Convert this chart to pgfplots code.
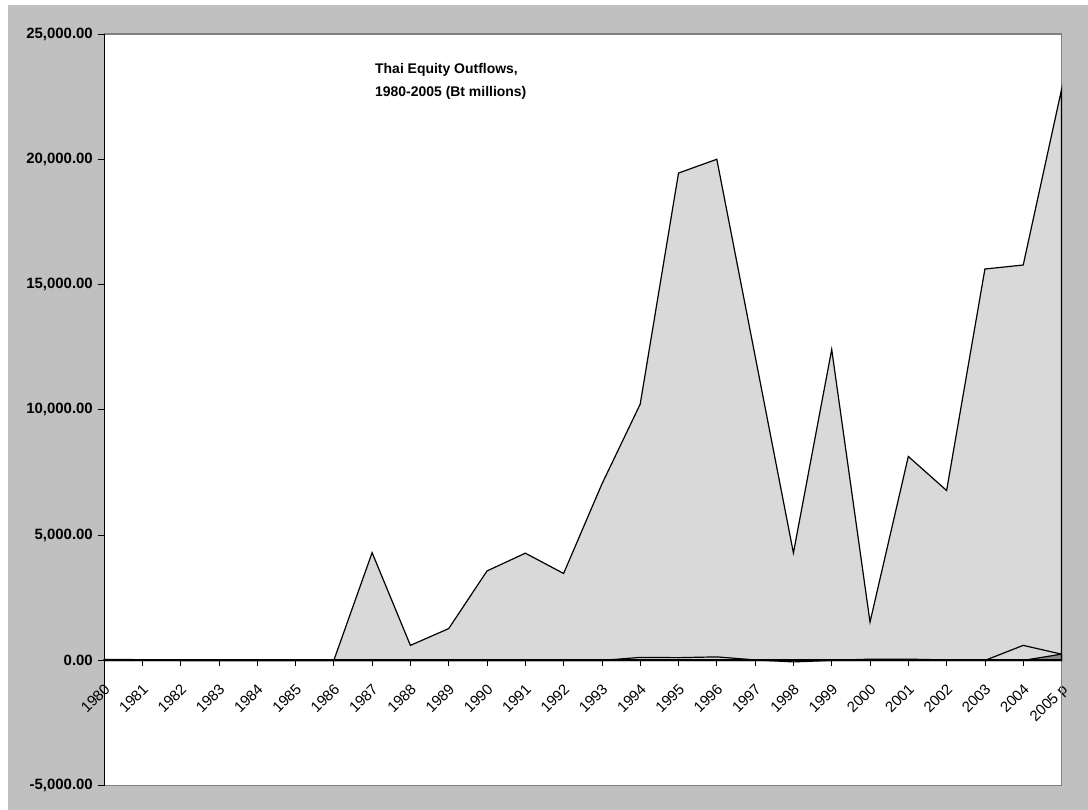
\documentclass[border=0pt]{standalone}
\usepackage{pgfplots}
\pgfplotsset{compat=1.18}
\usepackage{fontspec}
\setmainfont{Liberation Sans}
\definecolor{outergrey}{HTML}{C0C0C0}
\definecolor{areagrey}{HTML}{D9D9D9}
\definecolor{darkgrey}{HTML}{8C8C8C}
\definecolor{frameg}{HTML}{808080}
\newcommand\xl[1]{{\fontsize{15}{18}\selectfont #1}}
\begin{document}
\begin{tikzpicture}[x=1bp,y=1bp]
\path[use as bounding box] (0,0) rectangle (1088,810);
\fill[white] (0,0) rectangle (1088,810);
\fill[outergrey] (8,0) rectangle (1088,805);
\begin{axis}[
  at={(104bp,24.3bp)}, anchor=south west,
  scale only axis, width=957.5bp, height=751.7bp,
  xmin=0, xmax=25, ymin=-5000, ymax=25000,
  scaled y ticks=false,
  axis x line=middle, axis y line=left,
  axis line style={-, black, line width=1bp},
  hide obscured x ticks=false, hide obscured y ticks=false,
  axis background/.style={fill=white},
  tick align=outside, major tick length=6bp,
  tick style={black, line width=0.8bp},
  xtick={0,...,25},
  xticklabels={\xl{1980},\xl{1981},\xl{1982},\xl{1983},\xl{1984},\xl{1985},\xl{1986},\xl{1987},\xl{1988},\xl{1989},\xl{1990},\xl{1991},\xl{1992},\xl{1993},\xl{1994},\xl{1995},\xl{1996},\xl{1997},\xl{1998},\xl{1999},\xl{2000},\xl{2001},\xl{2002},\xl{2003},\xl{2004},\xl{2005 p}},
  xticklabel style={rotate=45, anchor=north east, inner sep=1bp, xshift=-11bp, yshift=-10bp},
  ytick={-5000,0,5000,10000,15000,20000,25000},
  yticklabels={{-5,000.00},{0.00},{5,000.00},{10,000.00},{15,000.00},{20,000.00},{25,000.00}},
  yticklabel style={font=\fontsize{15}{18}\selectfont\bfseries, inner sep=0bp, xshift=-5bp},
  clip=false,
]
\draw[frameg, line width=1.2bp] (rel axis cs:0,1) -- (rel axis cs:1,1) -- (rel axis cs:1,0) -- (rel axis cs:0,0);
\addplot[fill=areagrey, draw=black, line width=1.2bp] coordinates {
(0,30) (1,20) (2,0) (3,10) (4,0) (5,0) (6,0) (7,4300) (8,600) (9,1270)
(10,3570) (11,4280) (12,3470) (13,7040) (14,10230) (15,19450) (16,20000)
(17,12150) (18,4290) (19,12410) (20,1530) (21,8140) (22,6780) (23,15620)
(24,15780) (25,22780)
} \closedcycle;
\addplot[draw=black, line width=1.2bp] coordinates {
(0,40) (1,30) (2,0) (3,0) (4,0) (5,0) (6,0) (7,0) (8,0) (9,0)
(10,0) (11,0) (12,0) (13,0) (14,120) (15,110) (16,140) (17,20) (18,-60)
(19,0) (20,50) (21,50) (22,20) (23,0) (24,600) (25,250)
};
\addplot[fill=darkgrey, draw=black, line width=1.2bp] coordinates {
(0,0) (1,0) (2,0) (3,0) (4,0) (5,0) (6,0) (7,0) (8,0) (9,0)
(10,0) (11,0) (12,0) (13,0) (14,0) (15,0) (16,0) (17,0) (18,0)
(19,0) (20,0) (21,0) (22,0) (23,0) (24,0) (25,250)
} \closedcycle;
\draw[black, line width=2bp] (axis cs:0,0) -- (axis cs:25,0);
\draw[black, line width=1bp] (rel axis cs:0,0) -- (rel axis cs:0,1);
\end{axis}
\node[anchor=north west, align=left, font=\fontsize{14}{23}\selectfont\bfseries, inner sep=0pt] at (375,747) {Thai Equity Outflows,\\1980-2005 (Bt millions)};
\end{tikzpicture}
\end{document}
